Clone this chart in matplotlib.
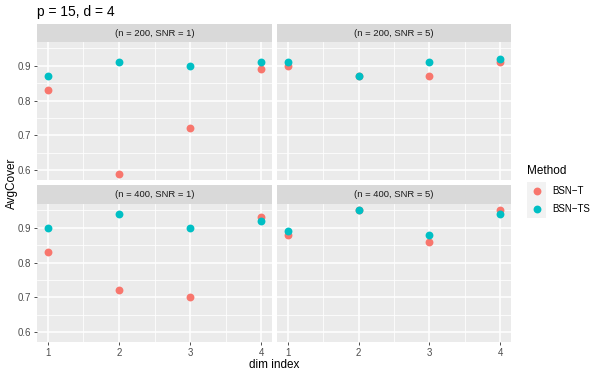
import matplotlib
matplotlib.use("Agg")
import matplotlib.pyplot as plt

plt.rcParams['font.family'] = ['Liberation Sans', 'DejaVu Sans']

dims = [1, 2, 3, 4]
panels = ["(n = 200, SNR = 1)", "(n = 200, SNR = 5)", "(n = 400, SNR = 1)", "(n = 400, SNR = 5)"]
bsn_t = [
    [0.83, 0.59, 0.72, 0.89],
    [0.90, 0.87, 0.87, 0.91],
    [0.83, 0.72, 0.70, 0.93],
    [0.88, 0.95, 0.86, 0.95],
]
bsn_ts = [
    [0.87, 0.91, 0.90, 0.91],
    [0.91, 0.87, 0.91, 0.92],
    [0.90, 0.94, 0.90, 0.92],
    [0.89, 0.95, 0.88, 0.94],
]
methods = ["BSN\u2212T", "BSN\u2212TS"]
colors = ["#F8766D", "#00BFC4"]
yticks = [0.6, 0.7, 0.8, 0.9]

W, H = 600, 375
fig = plt.figure(figsize=(6, 3.75), dpi=100)

def px(x0, y0, x1, y1):
    return [x0 / W, 1 - y1 / H, (x1 - x0) / W, (y1 - y0) / H]

cols = [(37, 272), (277, 511)]
rows = [(24, 42, 180), (185, 204, 342)]

for i, label in enumerate(panels):
    r, c = divmod(i, 2)
    x0, x1 = cols[c]
    st, pt, pb = rows[r]
    ax = fig.add_axes(px(x0, pt, x1, pb))
    ax.set_facecolor("#EBEBEB")
    ax.set_xlim(0.85, 4.15)
    ax.set_ylim(0.572, 0.968)
    for y in [0.65, 0.75, 0.85, 0.95]:
        ax.axhline(y, color="white", lw=0.55, zorder=0)
    for x in [1.5, 2.5, 3.5]:
        ax.axvline(x, color="white", lw=0.55, zorder=0)
    for y in yticks:
        ax.axhline(y, color="white", lw=1.1, zorder=0)
    for x in dims:
        ax.axvline(x, color="white", lw=1.1, zorder=0)
    ax.scatter(dims, bsn_t[i], s=32, color=colors[0], zorder=3, linewidths=0)
    ax.scatter(dims, bsn_ts[i], s=32, color=colors[1], zorder=4, linewidths=0)
    for sp in ax.spines.values():
        sp.set_visible(False)
    ax.set_yticks(yticks)
    ax.set_xticks(dims)
    ax.tick_params(length=2.5, width=0.6, color="#333333", labelsize=7, labelcolor="#4D4D4D", pad=2)
    if c == 0:
        ax.set_yticklabels([f"{v:.1f}" for v in yticks])
    else:
        ax.set_yticklabels([])
        ax.tick_params(axis="y", length=0)
    if r == 0:
        ax.set_xticklabels([])
        ax.tick_params(axis="x", length=0)
    else:
        ax.set_xticklabels([str(d) for d in dims])
    sax = fig.add_axes(px(x0, st, x1, pt))
    sax.set_facecolor("#D9D9D9")
    sax.set_xticks([]); sax.set_yticks([])
    for sp in sax.spines.values():
        sp.set_visible(False)
    sax.text(0.5, 0.5, label, ha="center", va="center", fontsize=6.8, color="#1A1A1A", transform=sax.transAxes)

fig.text(37 / W, 1 - 12 / H, "p = 15, d = 4", ha="left", va="center", fontsize=10, color="black")
fig.text(12 / W, 1 - 183 / H, "AvgCover", rotation=90, ha="center", va="center", fontsize=8.5, color="black")
fig.text(274 / W, 1 - 365 / H, "dim index", ha="center", va="center", fontsize=8.5, color="black")

fig.text(527 / W, 1 - 171 / H, "Method", ha="left", va="center", fontsize=8.5, color="black")
lax = fig.add_axes(px(527, 182, 546, 218))
lax.set_xlim(0, 1); lax.set_ylim(0, 2)
lax.axis("off")
for k, (m, col) in enumerate(zip(methods, colors)):
    yk = 1.5 - k
    lax.add_patch(plt.Rectangle((0, yk - 0.5), 1, 1, facecolor="#F2F2F2", edgecolor="none"))
    lax.scatter([0.5], [yk], s=32, color=col, linewidths=0, clip_on=False)
    fig.text(552 / W, 1 - (191 + 18 * k) / H, m, ha="left", va="center", fontsize=7, color="black")

fig.savefig("out.png", dpi=100)
